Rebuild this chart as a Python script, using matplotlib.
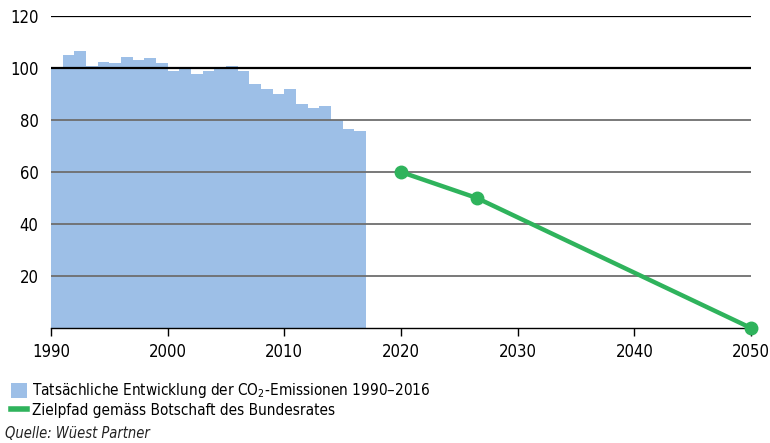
import matplotlib.pyplot as plt
from matplotlib import font_manager
from matplotlib.patches import Patch
from matplotlib.lines import Line2D

names = {f.name for f in font_manager.fontManager.ttflist}
if 'Liberation Sans Narrow' in names:
    plt.rcParams['font.family'] = ['Liberation Sans Narrow', 'DejaVu Sans']
else:
    plt.rcParams['font.family'] = ['DejaVu Sans']
    plt.rcParams['font.stretch'] = 'condensed'

years = list(range(1990, 2017))
emissions = [100.0, 105.0, 106.5, 100.8, 102.4, 101.8, 104.2, 103.1, 103.7, 101.8,
             99.0, 99.5, 97.8, 98.8, 99.5, 100.8, 98.8, 93.7, 91.8, 90.1,
             91.8, 86.0, 84.7, 85.3, 80.0, 76.4, 75.9]

target_years = [2020, 2026.5, 2050]
target_values = [60, 50, 0]

bar_color = '#9dbfe7'
line_color = '#2fb35c'

fig = plt.figure(figsize=(7.7, 4.43), dpi=100)
ax = fig.add_axes([0.0662, 0.2596, 0.9091, 0.7043])

ax.bar(years, emissions, width=1.0, align='edge', color=bar_color,
       linewidth=0, antialiased=False, zorder=1)

# gridlines drawn over the bars
for v in [20, 40, 60, 80]:
    ax.axhline(v, color='#6e6e6e', linewidth=1.3, zorder=2)
ax.axhline(100, color='black', linewidth=1.6, zorder=2)
ax.axhline(120, color='black', linewidth=0.9, zorder=2)

ax.plot(target_years, target_values, color=line_color, linewidth=3.2, marker='o',
        markersize=9, zorder=3, clip_on=False)

ax.set_xlim(1990, 2050)
ax.set_ylim(0, 120)
ax.set_xticks(range(1990, 2051, 10))
ax.set_yticks([20, 40, 60, 80, 100, 120])
for s in ['top', 'right', 'left']:
    ax.spines[s].set_visible(False)
ax.spines['bottom'].set_color('black')
ax.spines['bottom'].set_linewidth(1.0)
ax.tick_params(axis='x', direction='out', length=6, width=1, labelsize=12, pad=5)
ax.tick_params(axis='y', length=0, labelsize=12, pad=9)

handles = [Patch(facecolor=bar_color, edgecolor='none'),
           Line2D([], [], color=line_color, linewidth=4)]
labels = ['Tatsächliche Entwicklung der CO$_2$-Emissionen 1990–2016',
          'Zielpfad gemäss Botschaft des Bundesrates']
fig.legend(handles, labels, loc='upper left', bbox_to_anchor=(0.014, 0.139),
           frameon=False, fontsize=11, handlelength=1.05, handleheight=1.15,
           handletextpad=0.35, labelspacing=0.15, borderaxespad=0, borderpad=0)

fig.text(0.006, 0.004, 'Quelle: Wüest Partner', fontsize=10.5, style='italic',
         color='#222222', va='bottom')

fig.savefig('out.png', dpi=100)
